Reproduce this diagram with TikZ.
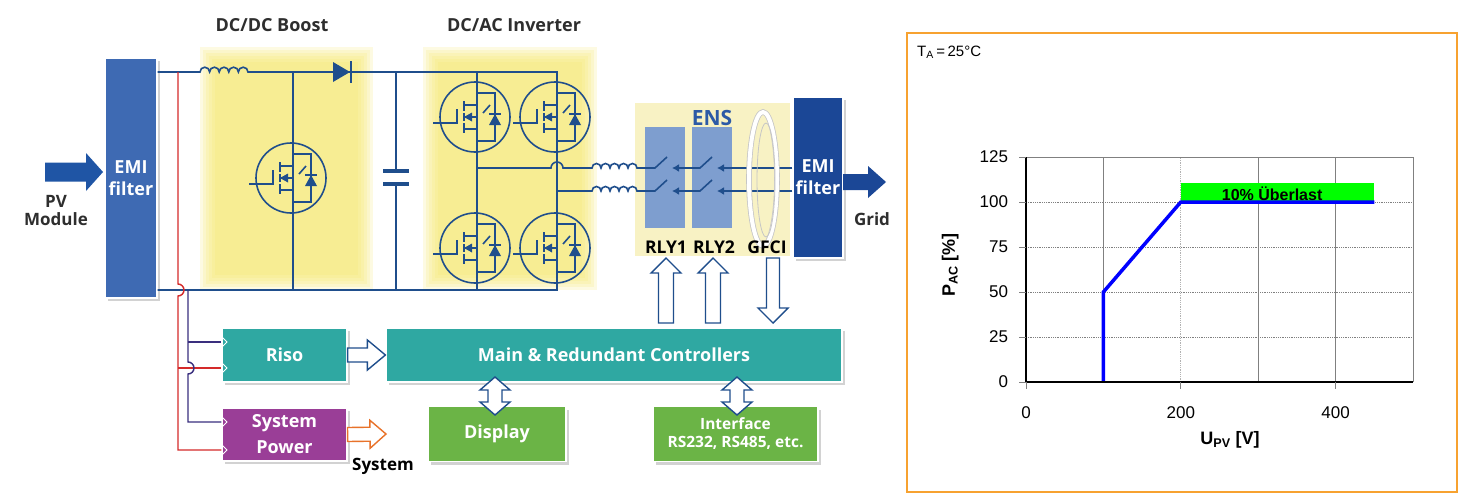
\documentclass[tikz,border=0pt]{standalone}
\usepackage{fontspec}
\setmainfont{Open Sans}
\newfontfamily\chartfont{Liberation Sans}
\usetikzlibrary{calc}
\usetikzlibrary{arrows.meta}
\usetikzlibrary{shadows}
\usetikzlibrary{positioning}

\definecolor{wirecol}{HTML}{1F4E8C}
\definecolor{emiblue}{HTML}{3E6AB3}
\definecolor{emidark}{HTML}{1B4796}
\definecolor{pvblue}{HTML}{1F55A5}
\definecolor{zoneyel}{HTML}{F7E96A}
\definecolor{ensyel}{HTML}{F8F2C4}
\definecolor{relayblue}{HTML}{7E9ECF}
\definecolor{tealbox}{HTML}{2FA8A2}
\definecolor{purplebox}{HTML}{9A3E97}
\definecolor{greenbox}{HTML}{6BB446}
\definecolor{redwire}{HTML}{D42A2A}
\definecolor{navywire}{HTML}{3A2F7E}
\definecolor{arroworange}{HTML}{E8722A}
\definecolor{frameorange}{HTML}{F7A230}
\definecolor{textgray}{HTML}{2E2E2E}
\definecolor{ensblue}{HTML}{2C5AA6}
\definecolor{overload}{HTML}{00FF00}

% block arrow: style, tail, tip, shaft half width, head half width, head length
\newcommand\blockarrow[6]{%
 \coordinate (bah) at ($(#3)!#6!(#2)$);
 \path[#1] ($(#2)!#4!90:(#3)$) -- ($(bah)!#4!90:(#3)$) -- ($(bah)!#5!90:(#3)$) -- (#3)
   -- ($(bah)!#5!-90:(#3)$) -- ($(bah)!#4!-90:(#3)$) -- ($(#2)!#4!-90:(#3)$) -- cycle;}
\newcommand\dblarrow[6]{%
 \coordinate (daa) at ($(#2)!#6!(#3)$);
 \coordinate (dab) at ($(#3)!#6!(#2)$);
 \path[#1] (#2) -- ($(daa)!#5!90:(#3)$) -- ($(daa)!#4!90:(#3)$) -- ($(dab)!#4!90:(#3)$)
   -- ($(dab)!#5!90:(#3)$) -- (#3) -- ($(dab)!#5!-90:(#3)$) -- ($(dab)!#4!-90:(#3)$)
   -- ($(daa)!#4!-90:(#3)$) -- ($(daa)!#5!-90:(#3)$) -- cycle;}

\tikzset{
 wire/.style={wirecol, line width=1.6pt},
 blk/.style={draw=white, line width=1.2pt, text=white, inner sep=0pt, align=center,
   font=\bfseries\fontsize{18}{22}\selectfont,
   drop shadow={opacity=.35, shadow xshift=3pt, shadow yshift=-3pt}},
 ttl/.style={text=textgray, align=center, font=\bfseries\fontsize{18}{22}\selectfont},
 hollow/.style={draw=wirecol, fill=white, line width=1.4pt},
 chartnum/.style={font=\chartfont\fontsize{17}{20}\selectfont},
 mosfet/.pic={
  \draw[wire] (0,0) circle[radius=35pt];
  \draw[wire] (-42,6) -- (-18,6) -- (-18,-8);
  \draw[wire] (-11,-16) -- (-11,-6) (-11,-4) -- (-11,4) (-11,6) -- (-11,16);
  \draw[wire] (-11,-12) -- (2,-12) (-11,12) -- (2,12) (-11,0) -- (2,0);
  \fill[wirecol] (-11,0) -- (-3,-4.5) -- (-3,4.5) -- cycle;
  \draw[wire] (2,-24) -- (20,-24) -- (20,24) -- (2,24);
  \fill[wirecol] (14,8) -- (26,8) -- (20,-3) -- cycle;
  \draw[wire] (14,-3) -- (26,-3);
  \draw[wire] (8,-4) -- (15,-12);
 }
}

\begin{document}
\begin{tikzpicture}[x=1pt, y=-1pt]
\useasboundingbox (0,0) rectangle (1464,493);
\fill[white] (0,0) rectangle (1464,493);

% yellow zones
\foreach \d in {0,3,...,15} {
 \fill[zoneyel, opacity=.19] (200+\d,47+\d) rectangle (373-\d,290-\d);
 \fill[zoneyel, opacity=.19] (423+\d,47+\d) rectangle (597-\d,290-\d);
}
\fill[ensyel] (635,103) rectangle (790,256);

\node[ttl] (ttlBoost) at (272,25) {DC/DC Boost};
\node[ttl] (ttlInv) at (514,25) {DC/AC Inverter};

% blocks
\node[blk, fill=emiblue, minimum width=52pt, minimum height=240pt] (emiL) at (131,178) {EMI\\filter};
\node[blk, fill=emidark, minimum width=50pt, minimum height=161pt] (emiR) at (818,177.5) {EMI\\filter};
\node[blk, fill=tealbox, minimum width=125pt, minimum height=54pt] (riso) at (284.5,355) {Riso};
\node[blk, fill=purplebox, minimum width=125pt, minimum height=53pt, font=\bfseries\fontsize{18}{26}\selectfont] (syspow) at (284.5,434.5) {System\\Power};
\node[blk, fill=tealbox, minimum width=456pt, minimum height=54pt] (main) at (614,355) {Main \& Redundant Controllers};
\node[blk, fill=greenbox, minimum width=138pt, minimum height=55pt] (disp) at (497,434) {Display};
\node[blk, fill=greenbox, minimum width=165pt, minimum height=55pt, font=\bfseries\fontsize{15.5}{18}\selectfont] (iface) at (735.5,434) {Interface\\RS232, RS485, etc.};
\node[fill=relayblue, minimum width=40pt, minimum height=101pt, inner sep=0pt] (rly1) at (665,177.5) {};
\node[fill=relayblue, minimum width=40pt, minimum height=101pt, inner sep=0pt] (rly2) at (712,177.5) {};

% dc link
\draw[wire] (emiL.east |- 0,72) -- (200,72) foreach \i in {1,...,5} {arc[start angle=180, end angle=0, radius=4.8pt]}
 -- (557,72) -- (557,290) -- (emiL.east |- 0,290);
\draw[wire] (293,72) -- (293,290);
\draw[wire] (477,72) -- (477,290);
\draw[wire] (396,72) -- (396,171) (396,184) -- (396,290);
\draw[wirecol, line width=4.5pt] (383,171) -- (409,171) (383,184) -- (409,184);
\fill[wirecol] (333,62) -- (350,72) -- (333,82) -- cycle;
\draw[wire] (351,61) -- (351,83);
\foreach \x/\y in {291/178, 475/117, 555/117, 475/248, 555/248} \pic at (\x,\y) {mosfet};

% ac side
\draw[wire] (477,168) -- (551,168) arc[start angle=180, end angle=0, radius=6pt] -- (592,168)
 foreach \i in {1,...,5} {arc[start angle=180, end angle=0, radius=4.5pt]} -- (655,168) -- (667,157);
\draw[wire] (557,191) -- (592,191)
 foreach \i in {1,...,5} {arc[start angle=180, end angle=0, radius=4.5pt]} -- (655,191) -- (667,180);
\foreach \y in {168,191} {
 \draw[wire, -{Latex[length=7pt, width=8pt]}] (712,\y-11) -- (700,\y) -- (672,\y);
 \draw[wire, -{Latex[length=7pt, width=8pt]}] (emiR.west |- 0,\y) -- (717,\y);
}
\draw[gray!45, double=white, double distance=4pt, line width=.8pt] (763,179) ellipse[x radius=14pt, y radius=67pt];
\draw[gray!45, line width=.8pt] (766,180) ellipse[x radius=9pt, y radius=57pt];

% sensing lines
\draw[redwire, line width=1.4pt] (178,72) -- (178,284) arc[start angle=90, end angle=-90, radius=6pt]
 -- (178,450) -- (syspow.west |- 0,450);
\draw[redwire, line width=1.4pt] (178,368) -- (riso.west |- 0,368);
\draw[navywire, line width=1.4pt] (188,290) -- (188,362) arc[start angle=90, end angle=-90, radius=6pt]
 -- (188,422) -- (syspow.west |- 0,422);
\draw[navywire, line width=1.4pt] (188,342) -- (riso.west |- 0,342);
\foreach \y in {342,368,422,450} \draw[white, line width=1pt] (222,\y-5) -- (227,\y) -- (222,\y+5);

% labels
\node[ttl, text=ensblue, font=\bfseries\fontsize{21}{24}\selectfont] (ensLbl) at (712,118) {ENS};
\node[ttl, text=black, font=\bfseries\fontsize{17.5}{20}\selectfont] (rly1Lbl) at (666,247) {RLY1};
\node[ttl, text=black, font=\bfseries\fontsize{17.5}{20}\selectfont] (rly2Lbl) at (714,247) {RLY2};
\node[ttl, text=black, font=\bfseries\fontsize{17.5}{20}\selectfont] (gfciLbl) at (767,247) {GFCI};
\node[ttl, font=\bfseries\fontsize{17}{18}\selectfont] (pvLbl) at (56,211) {PV\\Module};
\node[ttl, font=\bfseries\fontsize{17}{18}\selectfont] (gridLbl) at (872,219) {Grid};
\node[ttl, text=black, font=\bfseries\fontsize{17}{18}\selectfont] (sysLbl) at (383,466) {System};

% block arrows
\coordinate (pvTail) at (45,172);
\coordinate (pvTip) at (103,172);
\blockarrow{fill=pvblue}{pvTail}{pvTip}{9.5pt}{19pt}{17pt}
\coordinate (gridTail) at (843,182);
\coordinate (gridTip) at (886,182);
\blockarrow{fill=emidark}{gridTail}{gridTip}{8pt}{16pt}{18pt}
\blockarrow{hollow}{riso.east}{main.west}{7pt}{15pt}{18pt}
\coordinate (sysTip) at (386,434);
\blockarrow{hollow, draw=arroworange}{syspow.east}{sysTip}{7pt}{14pt}{16pt}
\foreach \x in {666,713} {
 \coordinate (upFoot) at (\x,323);
 \coordinate (upTip) at (\x,258);
 \blockarrow{hollow}{upFoot}{upTip}{7.5pt}{15pt}{15pt}
}
\coordinate (gfciTop) at (773,258);
\coordinate (gfciTip) at (773,323);
\blockarrow{hollow}{gfciTop}{gfciTip}{6.5pt}{15pt}{15pt}
\coordinate (dispTop) at (495,377);
\coordinate (dispBot) at (495,415);
\dblarrow{hollow}{dispTop}{dispBot}{7pt}{15pt}{13pt}
\coordinate (ifTop) at (737,377);
\coordinate (ifBot) at (737,415);
\dblarrow{hollow}{ifTop}{ifBot}{7pt}{15pt}{13pt}

% chart
\draw[frameorange, line width=2pt] (907,33) rectangle (1457,492);
\node[anchor=west, inner sep=0pt, font=\chartfont\fontsize{15}{17}\selectfont] (taLbl) at (917,52) {T\textsubscript{A}\,=\,25°C};
\begin{scope}[shift={(1026,382)}, x=0.774pt, y=1.8pt]
 \foreach \v in {25,50,75,100} \draw[gray, densely dotted, line width=.8pt] (0,\v) -- (500,\v);
 \foreach \u in {100,300,400} \draw[gray, line width=.8pt] (\u,0) -- (\u,125);
 \draw[gray!60, densely dotted, line width=.8pt] (200,0) -- (200,125);
 \draw[gray, line width=1pt] (0,125) -- (500,125) -- (500,0);
 \fill[overload] (200,100) rectangle (450,110.5);
 \node[font=\chartfont\bfseries\fontsize{16}{18}\selectfont] (ovlLbl) at (318,104.5) {10\% Überlast};
 \draw[blue, line width=3.5pt] (100,0) -- (100,50) -- (200,100) -- (450,100);
 \draw[black, line width=1.2pt] (0,125) -- (0,0) -- (500,0);
 \foreach \v in {0,25,...,125} {
  \draw[gray, line width=.8pt] (-9,\v) -- (0,\v);
  \node[chartnum, anchor=east, inner sep=0pt] (yt\v) at (-23,\v) {\v};
 }
 \foreach \u in {0,200,400} {
  \draw[gray, line width=.8pt] (\u,0) -- (\u,-4);
  \node[chartnum] (xt\u) at (\u,-17.2) {\u};
 }
 \node[font=\chartfont\bfseries\fontsize{18}{20}\selectfont] (xLbl) at (263.6,-32.2) {U\textsubscript{PV} [V]};
 \node[rotate=90, font=\chartfont\bfseries\fontsize{18}{20}\selectfont] (yLbl) at (-98,65) {P\textsubscript{AC} [\%]};
\end{scope}
\end{tikzpicture}
\end{document}
